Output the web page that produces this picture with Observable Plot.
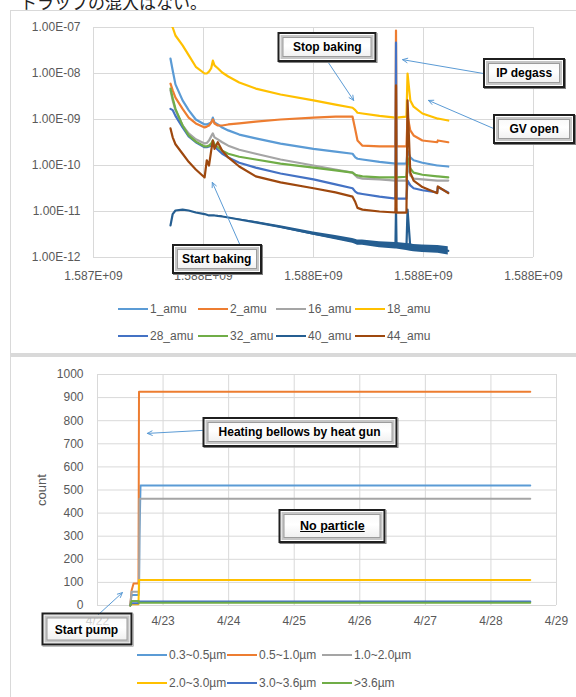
<!DOCTYPE html>
<html><head><meta charset="utf-8">
<script src="https://cdn.jsdelivr.net/npm/d3@7"></script>
<script src="https://cdn.jsdelivr.net/npm/@observablehq/plot@0.6"></script>
<style>
html,body{margin:0;padding:0;background:#fff;}
body{width:576px;height:697px;overflow:hidden;position:relative;font-family:"Liberation Sans",Arial,sans-serif;}
.frame{position:absolute;border:1px solid #d9d9d9;background:#fff;box-sizing:border-box;}
.sep{position:absolute;left:10px;width:600px;background:#d9d9d9;}
.box{position:absolute;box-sizing:border-box;border:2px solid #1f1f1f;
 background:linear-gradient(#f7f7f7,#fff 45%,#ececec);
 box-shadow:inset 0 0 0 1px #fff,inset 0 0 0 3px #c6c6c6,inset 0 0 0 4px #9c9c9c,1px 1px 0 #808080;
 display:flex;align-items:center;justify-content:center;font-weight:bold;font-size:12px;color:#000;white-space:nowrap;
 transform:translate(-50%,-50%);}
.leg{position:absolute;font-size:12px;color:#595959;white-space:nowrap;display:flex;align-items:center;height:16px;}
.sw{display:inline-block;width:30px;height:2.2px;margin-right:2px;}
.plotwrap{position:absolute;left:0;}
.jp{position:absolute;left:20px;top:-11px;font-size:17px;font-family:"Noto Sans CJK JP",sans-serif;color:#222;}
.ylab{position:absolute;font-size:13px;color:#595959;transform:translate(-50%,-50%) rotate(-90deg);}
</style>
</head><body>
<div class="jp">トラップの混入はない。</div>
<div class="frame" style="left:10px;top:10px;width:600px;height:344px;"></div>
<div class="sep" style="top:353px;height:3px;"></div>
<div class="frame" style="left:10px;top:356px;width:600px;height:400px;"></div>
<div id="c1" class="plotwrap" style="top:0px;"></div>
<div id="c2" class="plotwrap" style="top:357px;"></div>
<script>
// ---------- Chart 1 data (RGA partial pressures) ----------
const amuNames = ["1_amu","2_amu","16_amu","18_amu","28_amu","32_amu","40_amu","44_amu"];
const amuColors = ["#5B9BD5","#ED7D31","#A5A5A5","#FFC000","#4472C4","#70AD47","#255E91","#9E480E"];
const times = [1587540000,1587544000,1587549000,1587562000,1587573000,1587586000,1587602000,1587606000,1587610000,1587614000,
  1587617000,1587620000,1587626000,1587634000,1587645000,1587665000,1587695000,1587740000,1587800000,1587840000,
  1587871000,1587876000,1587880000,1587889000,1587920000,1587949000,1587950000,1587951000,1587969000,1587971000,
  1587976000,1587982000,1587998000,1588025000,1588026000,1588045000];
const amu1 = [2.1e-8,1.16e-8,5.8e-9,2.6e-9,1.6e-9,1e-9,7.8e-10,7.8e-10,8.2e-10,8.6e-10,
  1.1e-9,8.6e-10,7.8e-10,6.7e-10,5.8e-10,4.7e-10,3.9e-10,3e-10,2.3e-10,2e-10,
  1.8e-10,1.5e-10,1.4e-10,1.35e-10,1.2e-10,1.1e-10,1.1e-10,1.1e-10,1.1e-10,2.1e-10,
  1.5e-10,1.3e-10,1.15e-10,1e-10,1e-10,9.5e-11];
const amu2 = [6e-9,4.3e-9,3e-9,1.7e-9,1.1e-9,8.2e-10,6.7e-10,7e-10,7.4e-10,8.6e-10,
  1e-9,8.2e-10,7.4e-10,7.4e-10,7.8e-10,8.2e-10,9e-10,1e-9,1.1e-9,1.15e-9,
  1.15e-9,6e-10,3.5e-10,2.7e-10,2.6e-10,2.6e-10,8.6e-8,2.6e-10,2.6e-10,1.2e-9,
  5.8e-10,4.5e-10,3.5e-10,3.2e-10,3.5e-10,3.2e-10];
const amu16 = [4.3e-9,2.6e-9,1.6e-9,7.4e-10,5e-10,3.7e-10,3e-10,3.1e-10,3.5e-10,4.3e-10,
  5e-10,4.1e-10,3.7e-10,3.2e-10,2.7e-10,2.2e-10,1.8e-10,1.35e-10,1e-10,8.2e-11,
  7e-11,6.1e-11,5.5e-11,5.2e-11,5e-11,4.7e-11,4.7e-11,4.7e-11,4.7e-11,1e-10,
  6.1e-11,5.2e-11,5e-11,4.7e-11,4.7e-11,4.7e-11];
const amu18 = [1.2e-7,1e-7,6.7e-8,4.1e-8,2.5e-8,1.4e-8,1e-8,1e-8,1.1e-8,1.3e-8,
  1.9e-8,1.5e-8,1.3e-8,1.05e-8,8.6e-9,6.4e-9,4.7e-9,3.5e-9,2.6e-9,2.1e-9,
  1.8e-9,1.6e-9,1.4e-9,1.35e-9,1.2e-9,1.1e-9,1.1e-9,1.1e-9,1.15e-9,1e-8,
  2.6e-9,1.9e-9,1.35e-9,1.05e-9,1.05e-9,9.5e-10];
const amu28 = [1.7e-9,1.6e-9,1.2e-9,6.7e-10,4.3e-10,3.2e-10,2.5e-10,2.5e-10,2.6e-10,2.7e-10,
  3e-10,2.6e-10,2.2e-10,1.8e-10,1.5e-10,1.15e-10,9e-11,6.7e-11,5e-11,3.9e-11,
  3.2e-11,2.7e-11,2.5e-11,2.4e-11,2.1e-11,1.9e-11,4.7e-8,1.9e-11,1.9e-11,4.7e-11,
  3.7e-11,3.2e-11,2.9e-11,2.6e-11,3.4e-11,2.6e-11];
const amu32 = [4.7e-9,2.9e-9,1.7e-9,7.4e-10,4.5e-10,3.3e-10,2.6e-10,2.6e-10,2.7e-10,3e-10,
  3.5e-10,2.9e-10,2.5e-10,2.1e-10,1.8e-10,1.55e-10,1.35e-10,1.1e-10,9e-11,7.8e-11,
  7e-11,6.3e-11,6.1e-11,5.8e-11,5.5e-11,5.5e-11,5.5e-11,5.5e-11,5.7e-11,1.5e-10,
  8.6e-11,7e-11,6.3e-11,5.8e-11,5.8e-11,5.5e-11];
const amu40 = [5e-12,8.8e-12,1.05e-11,1.1e-11,1.05e-11,9.5e-12,8.8e-12,8.5e-12,8.2e-12,8.2e-12,
  8.2e-12,8.2e-12,8e-12,7.8e-12,7.4e-12,6.7e-12,5.8e-12,4.6e-12,3.3e-12,2.7e-12,
  2.3e-12,2.2e-12,2.1e-12,2.1e-12,1.9e-12,1.8e-12,1.2e-11,1.8e-12,1.7e-12,1.1e-11,
  1.65e-12,1.6e-12,1.55e-12,1.5e-12,1.5e-12,1.4e-12];
const amu44 = [6.4e-10,4.1e-10,2.9e-10,1.8e-10,1.2e-10,8.2e-11,5.5e-11,1.3e-10,1e-10,2.1e-10,
  3.5e-10,2.3e-10,3.2e-10,2.1e-10,1.5e-10,9.5e-11,5.8e-11,4.3e-11,3.2e-11,2.6e-11,
  2.1e-11,1.6e-11,1.2e-11,1.1e-11,1e-11,9.5e-12,5.5e-9,9.5e-12,9.5e-12,2.6e-9,
  7e-11,4.7e-11,3.4e-11,2.5e-11,3.5e-11,2.5e-11];
// noise spread of the 40_amu trace (multiplicative half-width; 0 = spike sample, skipped)
const noise40 = [1,1,1,1,1,1,1,1,1,1, 1,1,1,1,1,1.02,1.04,1.06,1.09,1.11,
  1.13,1.13,1.14,1.14,1.16,1.18,0,1.18,1.19,0, 1.2,1.2,1.21,1.22,1.22,1.23];
const amuValues = [amu1,amu2,amu16,amu18,amu28,amu32,amu40,amu44];

const xTicks1 = [1587400000,1587600000,1587800000,1588000000,1588200000];
const xTickLabels1 = ["1.587E+09","1.588E+09","1.588E+09","1.588E+09","1.588E+09"];
const yTicks1 = [1e-12,1e-11,1e-10,1e-9,1e-8,1e-7];
const yTickLabels1 = ["1.00E-12","1.00E-11","1.00E-10","1.00E-09","1.00E-08","1.00E-07"];

const notes1 = [
  {label:"Stop baking", x:1587826000, y:3.7e-8},
  {label:"IP degass", x:1588184000, y:1e-8},
  {label:"GV open", x:1588202000, y:6.1e-10},
  {label:"Start baking", x:1587625000, y:9e-13}
];
const arrows1 = [
  {x1:1587827000, y1:1.73e-8, x2:1587873000, y2:2.6e-9},
  {x1:1588109000, y1:1e-8, x2:1587962000, y2:2.0e-8},
  {x1:1588127000, y1:6.4e-10, x2:1588009000, y2:2.6e-9},
  {x1:1587667000, y1:1.8e-12, x2:1587616000, y2:4.3e-11}
];

// ---------- Chart 2 data (particle counts) ----------
const sizeNames = ["0.3~0.5µm","0.5~1.0µm","1.0~2.0µm","2.0~3.0µm","3.0~3.6µm",">3.6µm"];
const sizeColors = ["#5B9BD5","#ED7D31","#A5A5A5","#FFC000","#4472C4","#70AD47"];
const days = [22.50,22.52,22.55,22.61,22.625,22.633,22.64,22.656,28.60];
const c03 = [0,45,45,45,45,60,300,520,520];
const c05 = [0,65,95,95,95,925,925,925,925];
const c10 = [0,60,60,60,60,60,462,462,462];
const c20 = [0,5,5,5,5,110,110,110,110];
const c30 = [0,10,10,10,10,17,17,17,17];
const c36 = [0,20,20,20,20,12,12,12,12];
const sizeValues = [c03,c05,c10,c20,c30,c36];

const dayTicks = [22,23,24,25,26,27,28,29];
const dayTickLabels = ["4/22","4/23","4/24","4/25","4/26","4/27","4/28","4/29"];
const countTicks = [0,100,200,300,400,500,600,700,800,900,1000];

const notes2 = [
  {label:"Heating bellows by heat gun", x:25.09, y:749},
  {label:"No particle", x:25.59, y:342},
  {label:"Start pump", x:21.84, y:-106}
];
const arrows2 = [
  {x1:23.60, y1:758, x2:22.76, y2:745},
  {x1:22.0, y1:-43, x2:22.38, y2:56}
];

// ---------- layout / style ----------
const boxSize = {
  "Stop baking":[99,30], "IP degass":[82,30], "GV open":[82,30], "Start baking":[90,30],
  "Heating bellows by heat gun":[195,30], "No particle":[107,34], "Start pump":[91,33]
};
const plotStyle = {fontSize:"12px", fontFamily:"'Liberation Sans', Arial, sans-serif", color:"#595959", background:"none", overflow:"visible"};
const gridColor = "#d9d9d9";
const arrowColor = "#5B9BD5";

// ---------- Chart 1 ----------
const xLab1 = new Map(xTicks1.map((t,i)=>[t,xTickLabels1[i]]));
const yLab1 = new Map(yTicks1.map((t,i)=>[t,yTickLabels1[i]]));
const lineMarks1 = amuValues.map((vals,k)=>Plot.line(times.map((t,i)=>({t, v: vals[i]})),
  {x:"t", y:"v", stroke: amuColors[k], strokeWidth:2.2, clip:true}));
const band40 = times.map((t,i)=>({t, f: noise40[i], lo: amu40[i]/(noise40[i]||1), hi: amu40[i]*(noise40[i]||1)}));
const chart1 = Plot.plot({
  width:576, height:290, marginLeft:93, marginRight:43, marginTop:27, marginBottom:33,
  style: plotStyle,
  x:{domain:[1587400000,1588200000]},
  y:{type:"log", domain:[1e-12,1e-7]},
  marks:[
    Plot.gridX(xTicks1, {stroke:gridColor, strokeOpacity:1}),
    Plot.gridY(yTicks1, {stroke:gridColor, strokeOpacity:1}),
    Plot.axisX({ticks:xTicks1, tickFormat:d=>xLab1.get(d), tickSize:0, tickPadding:14, label:null}),
    Plot.axisY({ticks:yTicks1, tickFormat:d=>yLab1.get(d), tickSize:0, tickPadding:13, label:null}),
    ...lineMarks1.slice(0,6),
    Plot.areaY(band40, {filter:d=>d.f>0, x:"t", y1:"lo", y2:"hi", fill:amuColors[6], clip:true}),
    lineMarks1[6], lineMarks1[7],
    Plot.arrow(arrows1, {x1:"x1", y1:"y1", x2:"x2", y2:"y2", stroke:arrowColor, strokeWidth:1, headLength:8, headAngle:50})
  ]
});
document.getElementById("c1").appendChild(chart1);

// ---------- Chart 2 ----------
const xLab2 = new Map(dayTicks.map((t,i)=>[t,dayTickLabels[i]]));
const chart2 = Plot.plot({
  width:576, height:280, marginLeft:97, marginRight:20, marginTop:17, marginBottom:32,
  style: plotStyle,
  x:{domain:[22,29]},
  y:{domain:[0,1000]},
  marks:[
    Plot.gridX(dayTicks, {stroke:gridColor, strokeOpacity:1}),
    Plot.gridY(countTicks, {stroke:gridColor, strokeOpacity:1}),
    Plot.axisX({ticks:dayTicks, tickFormat:d=>xLab2.get(d), tickSize:0, tickPadding:11, label:null}),
    Plot.axisY({ticks:countTicks, tickFormat:d=>String(d), tickSize:0, tickPadding:14, label:null}),
    ...sizeValues.map((vals,k)=>Plot.line(days.map((d,i)=>({d, c: vals[i]})),
      {x:"d", y:"c", stroke:sizeColors[k], strokeWidth:2})),
    Plot.arrow(arrows2, {x1:"x1", y1:"y1", x2:"x2", y2:"y2", stroke:arrowColor, strokeWidth:1, headLength:8, headAngle:50})
  ]
});
document.getElementById("c2").appendChild(chart2);

// ---------- callout boxes (placed through the charts' scales) ----------
function scaleFn(chart, name, fallback){
  const s = chart.scale(name);
  if (s && typeof s.apply === "function") return v => s.apply(v);
  return fallback;
}
function placeNotes(chart, notes, top, fbx, fby, extra){
  const fx = scaleFn(chart,"x",fbx), fy = scaleFn(chart,"y",fby);
  for (const n of notes){
    const [w,h] = boxSize[n.label];
    const el = document.createElement("div");
    el.className = "box";
    el.style.left = fx(n.x)+"px";
    el.style.top = (top + fy(n.y))+"px";
    el.style.width = w+"px"; el.style.height = h+"px";
    const span = document.createElement("span");
    span.textContent = n.label;
    if (n.label === "No particle"){ span.style.textDecoration = "underline"; span.style.fontSize="12.5px"; }
    el.appendChild(span);
    if (extra && extra[n.label]) Object.assign(el.style, extra[n.label]);
    document.body.appendChild(el);
  }
}
placeNotes(chart1, notes1, 0,
  d3.scaleLinear().domain([1587400000,1588200000]).range([93,533]),
  d3.scaleLog().domain([1e-12,1e-7]).range([257,27]));
placeNotes(chart2, notes2, 357,
  d3.scaleLinear().domain([22,29]).range([97,556]),
  d3.scaleLinear().domain([0,1000]).range([248,17]),
  {"Start pump": {background:"linear-gradient(rgba(247,247,247,0.55),rgba(255,255,255,0.85) 45%,#ececec)"}});

// ---------- y label ----------
const yl = document.createElement("div");
yl.className = "ylab"; yl.textContent = "count";
yl.style.left = "41px"; yl.style.top = "490px";
document.body.appendChild(yl);

// ---------- legends ----------
function legend(names, colors, cols, rows){
  names.forEach((name,i)=>{
    const el = document.createElement("div");
    el.className = "leg";
    el.style.left = cols[i % cols.length]+"px";
    el.style.top = (rows[Math.floor(i / cols.length)] - 8)+"px";
    const sw = document.createElement("span");
    sw.className = "sw"; sw.style.background = colors[i];
    el.appendChild(sw);
    el.appendChild(document.createTextNode(name));
    document.body.appendChild(el);
  });
}
legend(amuNames, amuColors, [118,198,276,355], [309,336]);
legend(sizeNames, sizeColors, [137,227,322], [655,683]);
</script>
</body></html>
